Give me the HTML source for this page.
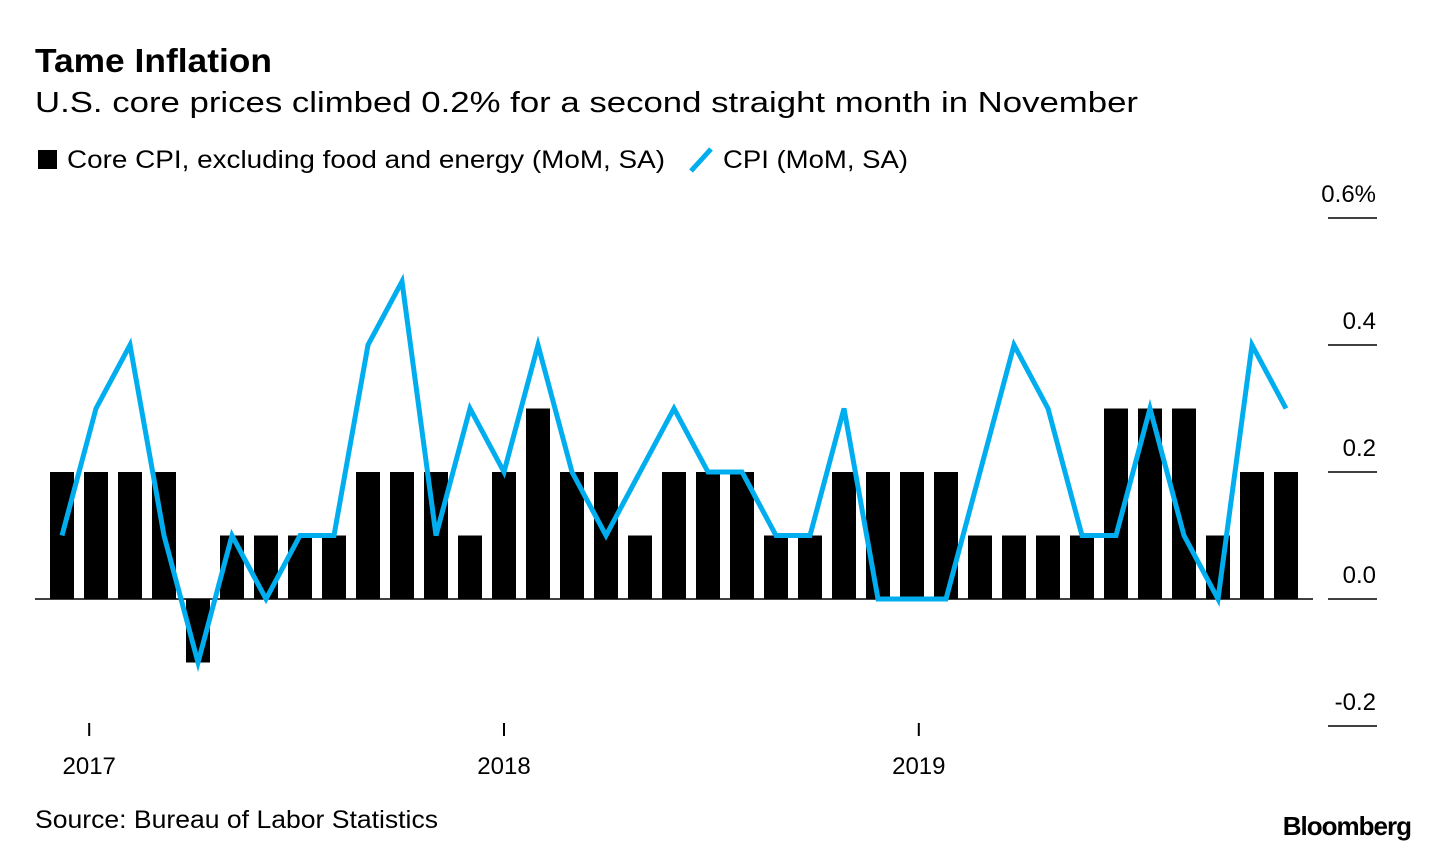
<!DOCTYPE html>
<html><head><meta charset="utf-8"><style>
body{margin:0;background:#fff;width:1439px;height:850px;overflow:hidden;font-family:"Liberation Sans",sans-serif;}
svg{position:absolute;left:0;top:0}
</style></head><body>
<svg width="1439" height="850" id="c">
<text x="35" y="72" font-size="33" font-weight="bold" fill="#000" textLength="237" lengthAdjust="spacingAndGlyphs">Tame Inflation</text>
<text x="35" y="112" font-size="29" fill="#000" textLength="1103" lengthAdjust="spacingAndGlyphs">U.S. core prices climbed 0.2% for a second straight month in November</text>
<g>
<rect x="38" y="150" width="19" height="19" fill="#000"/>
<text x="67" y="168" font-size="25" textLength="598" lengthAdjust="spacingAndGlyphs">Core CPI, excluding food and energy (MoM, SA)</text>
<line x1="691" y1="171" x2="711" y2="149" stroke="#00aeef" stroke-width="5"/>
<text x="723" y="168" font-size="25" textLength="185" lengthAdjust="spacingAndGlyphs">CPI (MoM, SA)</text>
</g>
<text x="35" y="828" font-size="25" textLength="403" lengthAdjust="spacingAndGlyphs">Source: Bureau of Labor Statistics</text>
<text x="1411" y="835" font-size="26" font-weight="bold" text-anchor="end" letter-spacing="-1">Bloomberg</text>
<g id="plot"></g>
</svg>
<script>
const core=[0.2,0.2,0.2,0.2,-0.1,0.1,0.1,0.1,0.1,0.2,0.2,0.2,0.1,0.2,0.3,0.2,0.2,0.1,0.2,0.2,0.2,0.1,0.1,0.2,0.2,0.2,0.2,0.1,0.1,0.1,0.1,0.3,0.3,0.3,0.1,0.2,0.2];
const cpi=[0.1,0.3,0.4,0.1,-0.1,0.1,0.0,0.1,0.1,0.4,0.5,0.1,0.3,0.2,0.4,0.2,0.1,0.2,0.3,0.2,0.2,0.1,0.1,0.3,0.0,0.0,0.0,0.2,0.4,0.3,0.1,0.1,0.3,0.1,0.0,0.4,0.3];
const yTicks=[0.6,0.4,0.2,0.0,-0.2];
const yTickLabels=["0.6%","0.4","0.2","0.0","-0.2"];
const xTickIdx=[0.8,13,25.2];
const xTickLabels=["2017","2018","2019"];
const NS="http://www.w3.org/2000/svg";
const g=document.getElementById('plot');
const x=i=>62+34*i;
const y=v=>599-v*635;
function mk(t,a){const e=document.createElementNS(NS,t);for(const k in a)e.setAttribute(k,a[k]);g.appendChild(e);return e;}
core.forEach((v,i)=>{
const r=mk('rect',{x:x(i)-12,y:Math.min(y(v),y(0)),width:24,height:Math.abs(y(v)-y(0)),fill:'#000'});


});
const base=mk('line',{x1:35,x2:1313,y1:y(0),y2:y(0),stroke:'#000','stroke-width':1.5});


const pl=mk('polyline',{points:cpi.map((v,i)=>x(i)+','+y(v)).join(' '),fill:'none',stroke:'#00aeef','stroke-width':5,'stroke-linejoin':'miter'});


yTicks.forEach((v,i)=>{
const l=mk('line',{x1:1328,x2:1377,y1:y(v),y2:y(v),stroke:'#000','stroke-width':1.5});


const t=mk('text',{x:1376,y:y(v)-16,'font-size':24,'text-anchor':'end'});
t.textContent=yTickLabels[i];


});
xTickIdx.forEach((v,i)=>{
const l=mk('line',{x1:x(v),x2:x(v),y1:723,y2:736,stroke:'#000','stroke-width':2});


const t=mk('text',{x:x(v),y:774,'font-size':24,'text-anchor':'middle'});
t.textContent=xTickLabels[i];


});
</script>
</body></html>
